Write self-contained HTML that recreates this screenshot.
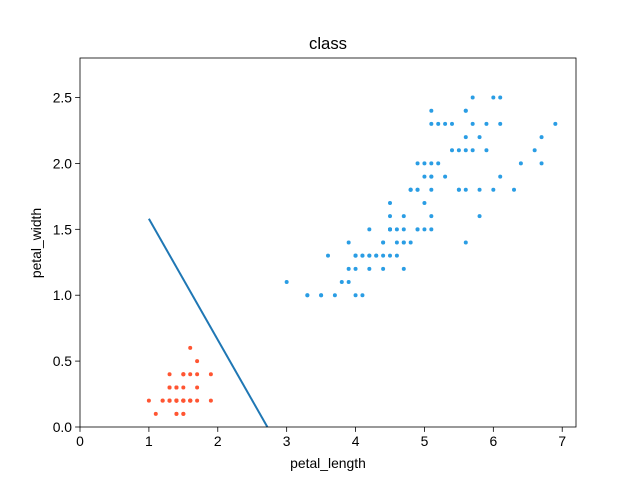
<!DOCTYPE html>
<html><head><meta charset="utf-8"><style>
body{margin:0;background:#fff;}
svg text{font-family:"Liberation Sans","DejaVu Sans",sans-serif;fill:#000;}
</style></head><body>
<svg id="chart" width="640" height="480" xmlns="http://www.w3.org/2000/svg">
<rect width="640" height="480" fill="#fff"/>
<g id="marks"></g>
<rect x="80" y="58" width="496" height="369" fill="none" stroke="#000" stroke-width="0.8"/>
<g id="axes"></g>
<text x="328" y="49" text-anchor="middle" font-size="16.7">class</text>
<text x="328" y="468" text-anchor="middle" font-size="13.9">petal_length</text>
<text x="0" y="0" transform="translate(41,243) rotate(-90)" text-anchor="middle" font-size="13.9">petal_width</text>
</svg>
<script>
const setosaLength=[1.4,1.4,1.3,1.5,1.4,1.7,1.4,1.5,1.4,1.5,1.5,1.6,1.4,1.1,1.2,1.5,1.3,1.4,1.7,1.5,1.7,1.5,1.0,1.7,1.9,1.6,1.6,1.5,1.4,1.6,1.6,1.5,1.5,1.4,1.5,1.2,1.3,1.4,1.3,1.5,1.3,1.3,1.3,1.6,1.9,1.4,1.6,1.4,1.5,1.4];
const setosaWidth=[.2,.2,.2,.2,.2,.4,.3,.2,.2,.1,.2,.2,.1,.1,.2,.4,.4,.3,.3,.3,.2,.4,.2,.5,.2,.2,.4,.2,.2,.2,.2,.4,.1,.2,.2,.2,.2,.1,.2,.2,.3,.3,.2,.6,.4,.3,.2,.2,.2,.2];
const otherLength=[4.7,4.5,4.9,4.0,4.6,4.5,4.7,3.3,4.6,3.9,3.5,4.2,4.0,4.7,3.6,4.4,4.5,4.1,4.5,3.9,4.8,4.0,4.9,4.7,4.3,4.4,4.8,5.0,4.5,3.5,3.8,3.7,3.9,5.1,4.5,4.5,4.7,4.4,4.1,4.0,4.4,4.6,4.0,3.3,4.2,4.2,4.2,4.3,3.0,4.1,
6.0,5.1,5.9,5.6,5.8,6.6,4.5,6.3,5.8,6.1,5.1,5.3,5.5,5.0,5.1,5.3,5.5,6.7,6.9,5.0,5.7,4.9,6.7,4.9,5.7,6.0,4.8,4.9,5.6,5.8,6.1,6.4,5.6,5.1,5.6,6.1,5.6,5.5,4.8,5.4,5.6,5.1,5.1,5.9,5.7,5.2,5.0,5.2,5.4,5.1];
const otherWidth=[1.4,1.5,1.5,1.3,1.5,1.3,1.6,1.0,1.3,1.4,1.0,1.5,1.0,1.4,1.3,1.4,1.5,1.0,1.5,1.1,1.8,1.3,1.5,1.2,1.3,1.4,1.4,1.7,1.5,1.0,1.1,1.0,1.2,1.6,1.5,1.6,1.5,1.3,1.3,1.3,1.2,1.4,1.2,1.0,1.3,1.2,1.3,1.3,1.1,1.3,
2.5,1.9,2.1,1.8,2.2,2.1,1.7,1.8,1.8,2.5,2.0,1.9,2.1,2.0,2.4,2.3,1.8,2.2,2.3,1.5,2.3,2.0,2.0,1.8,2.1,1.8,1.8,1.8,2.1,1.6,1.9,2.0,2.2,1.5,1.4,2.3,2.4,1.8,1.8,2.1,2.4,2.3,1.9,2.3,2.5,2.3,1.9,2.0,2.3,1.8];
const boundaryX=[1.0,2.72];
const boundaryY=[1.58,0.0];
const xTicks=[0,1,2,3,4,5,6,7];
const xTickLabels=["0","1","2","3","4","5","6","7"];
const yTicks=[0,0.5,1,1.5,2,2.5];
const yTickLabels=["0.0","0.5","1.0","1.5","2.0","2.5"];

const X0=80,X1=576,Y0=427,Y1=58,xMin=0,xMax=7.2,yMin=0,yMax=2.8;
const sx=v=>X0+(v-xMin)/(xMax-xMin)*(X1-X0);
const sy=v=>Y0-(v-yMin)/(yMax-yMin)*(Y0-Y1);
const NS="http://www.w3.org/2000/svg";
const marks=document.getElementById('marks'),axes=document.getElementById('axes');
function mk(tag,attrs,parent){const e=document.createElementNS(NS,tag);for(const k in attrs)e.setAttribute(k,attrs[k]);parent.appendChild(e);return e;}
otherLength.forEach((v,i)=>{const c=mk('circle',{cx:sx(v),cy:sy(otherWidth[i]),r:2,fill:'#2a9de4'},marks);

});
setosaLength.forEach((v,i)=>{const c=mk('circle',{cx:sx(v),cy:sy(setosaWidth[i]),r:2,fill:'#ff5532'},marks);

});
const ln=mk('line',{x1:sx(boundaryX[0]),y1:sy(boundaryY[0]),x2:sx(boundaryX[1]),y2:sy(boundaryY[1]),stroke:'#1f77b4','stroke-width':2},marks);


xTicks.forEach((v,i)=>{mk('line',{x1:sx(v),x2:sx(v),y1:Y0,y2:Y0+4.9,stroke:'#000','stroke-width':0.8},axes);
const t=mk('text',{x:sx(v),y:Y0+19,'text-anchor':'middle','font-size':13.9},axes);t.textContent=xTickLabels[i];

});
yTicks.forEach((v,i)=>{mk('line',{x1:X0-4.9,x2:X0,y1:sy(v),y2:sy(v),stroke:'#000','stroke-width':0.8},axes);
const t=mk('text',{x:X0-8,y:sy(v)+5,'text-anchor':'end','font-size':13.9},axes);t.textContent=yTickLabels[i];

});
</script>
</body></html>
